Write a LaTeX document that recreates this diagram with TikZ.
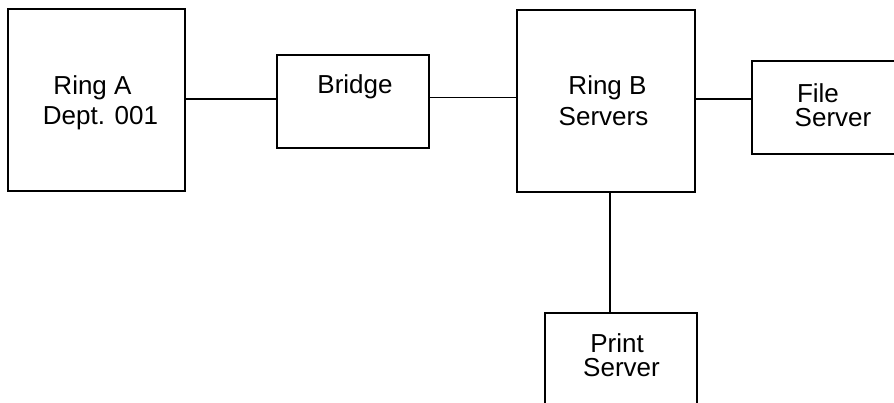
\documentclass[tikz,border=0pt]{standalone}
\usepackage{fontspec}
\setmainfont{Liberation Sans}
\begin{document}
\begin{tikzpicture}[x=1pt,y=-1pt,
  box/.style={draw=black,line width=1.5pt,inner sep=0pt,outer sep=0pt,rectangle},
  lbl/.style={inner sep=0pt,font=\fontsize{26}{30}\selectfont,text=black},
  wire/.style={draw=black,line width=1.5pt}]
\useasboundingbox (0,0) rectangle (894,403);
\clip (0,0) rectangle (894,403);
% boxes
\node[box,minimum width=177pt,minimum height=182pt] (ringA) at (96.5,100) {};
\node[box,minimum width=152pt,minimum height=93pt] (bridge) at (353,101.5) {};
\node[box,minimum width=178pt,minimum height=182pt] (ringB) at (606,101) {};
\node[box,minimum width=160pt,minimum height=93pt] (file) at (832,107.5) {};
\node[box,minimum width=152pt,minimum height=110pt] (print) at (621,368) {};
% labels
\node[lbl] (ta1) at (92.5,88) {Ring A};
\node[lbl] (ta2) at (100.5,118) {Dept. 001};
\node[lbl] (tb) at (355,87) {Bridge};
\node[lbl] (tr1) at (607.5,88) {Ring B};
\node[lbl] (tr2) at (603.5,117) {Servers};
\node[lbl] (tf1) at (818,93) {File};
\node[lbl] (tf2) at (833,118) {Server};
\node[lbl] (tp1) at (617,343) {Print};
\node[lbl] (tp2) at (621.5,368) {Server};
% connectors
\draw[wire] ([yshift=1pt]ringA.east) -- ([yshift=1pt]ringA.east -| bridge.west);
\draw[wire] ([yshift=4pt]bridge.east) -- ([yshift=4pt]bridge.east -| ringB.west);
\draw[wire] ([yshift=2pt]ringB.east) -- ([yshift=2pt]ringB.east -| file.west);
\draw[wire] ([xshift=4pt]ringB.south) -- ([xshift=4pt]ringB.south |- print.north);
\end{tikzpicture}
\end{document}
